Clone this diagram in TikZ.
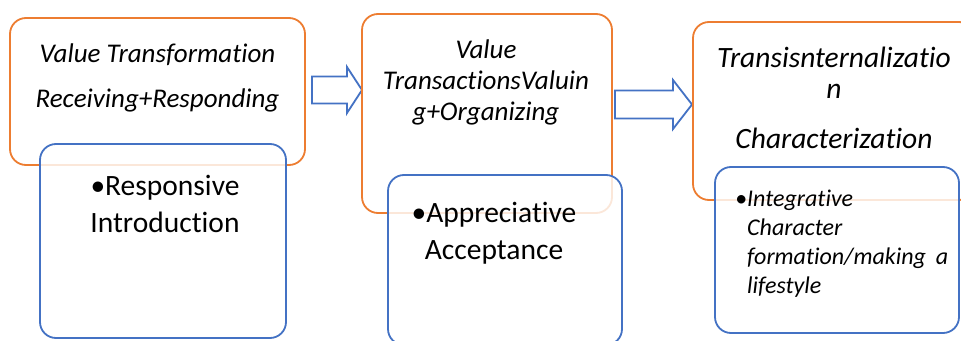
\documentclass[tikz,border=0pt]{standalone}
\usepackage{fontspec}
\setmainfont{Carlito}[Ligatures=NoCommon]
\definecolor{stageorange}{HTML}{ED7D31}
\definecolor{detailblue}{HTML}{4472C4}
\begin{document}
\begin{tikzpicture}[x=1pt,y=-1pt,
  stagebox/.style={draw=stageorange, line width=1.8pt, rounded corners=16pt,
    inner sep=0pt, rectangle},
  detailbox/.style={draw=detailblue, line width=1.8pt, rounded corners=16pt,
    fill=white, fill opacity=0.82, inner sep=0pt, rectangle},
  flow/.style={draw=detailblue, line width=1.8pt, fill=white, line join=miter},
  headtext/.style={inner sep=0pt, anchor=base, align=center,
    font=\itshape\fontsize{27}{31}\selectfont},
  bullettext/.style={inner sep=0pt, anchor=base, align=center,
    font=\fontsize{29.5}{36.5}\selectfont},
]
\fill[white] (0,0) rectangle (961,340);
\clip (0,0) rectangle (961,340);
\useasboundingbox (0,0) rectangle (961,340);

% block arrows between the stages
\coordinate (a1) at (312,90);
\coordinate (a1tip) at (362,90);
\draw[flow] (a1) ++(0,-13.5) -- ++(35,0) -- ++(0,-9.5) -- (a1tip)
  -- ++(-15,23) -- ++(0,-9.5) -- ++(-35,0) -- cycle;
\coordinate (a2) at (615,104.5);
\coordinate (a2tip) at (692,104.5);
\draw[flow] (a2) ++(0,-14) -- ++(58,0) -- ++(0,-10.5) -- (a2tip)
  -- ++(-19,24.5) -- ++(0,-10.5) -- ++(-58,0) -- cycle;

% stage frames
\node[stagebox, minimum width=295pt, minimum height=147pt] (s1) at (157.5,91.5) {};
\node[stagebox, minimum width=250pt, minimum height=199pt] (s2) at (487,113.5) {};
\node[stagebox, minimum width=282pt, minimum height=178pt] (s3) at (834,111) {};

% detail frames
\node[detailbox, minimum width=246pt, minimum height=194pt] (d1) at (163,241) {};
\node[detailbox, minimum width=234pt, minimum height=170pt] (d2) at (505,260) {};
\node[detailbox, minimum width=244pt, minimum height=166pt] (d3) at (837,250) {};

% stage titles (anchored at the baseline of their last line)
\node[headtext, font=\itshape\fontsize{27}{45}\selectfont] (t1) at (157.5,107)
  {Value Transformation\\Receiving+Responding};
\node[headtext] (t2) at (486,120)
  {Value\\TransactionsValuin\\g+Organizing};
\node[headtext, font=\itshape\fontsize{29.5}{31}\selectfont] (t3) at (834,98)
  {Transisnternalizatio\\n};
\node[headtext, font=\itshape\fontsize{29.5}{31}\selectfont] (t3b) at (834,148)
  {Characterization};

% detail texts
\node[bullettext] (b1) at (165,232) {•Responsive\\Introduction};
\node[bullettext] (b2) at (494,259) {•Appreciative\\Acceptance};
\node[inner sep=0pt, anchor=base west, font=\itshape\fontsize{24}{29}\selectfont]
  (b3) at (735,206)
  {•\begin{tabular}[t]{@{}l@{}}Integrative\\Character\\formation/making\hspace{10pt}a\\lifestyle\end{tabular}};
\end{tikzpicture}
\end{document}
